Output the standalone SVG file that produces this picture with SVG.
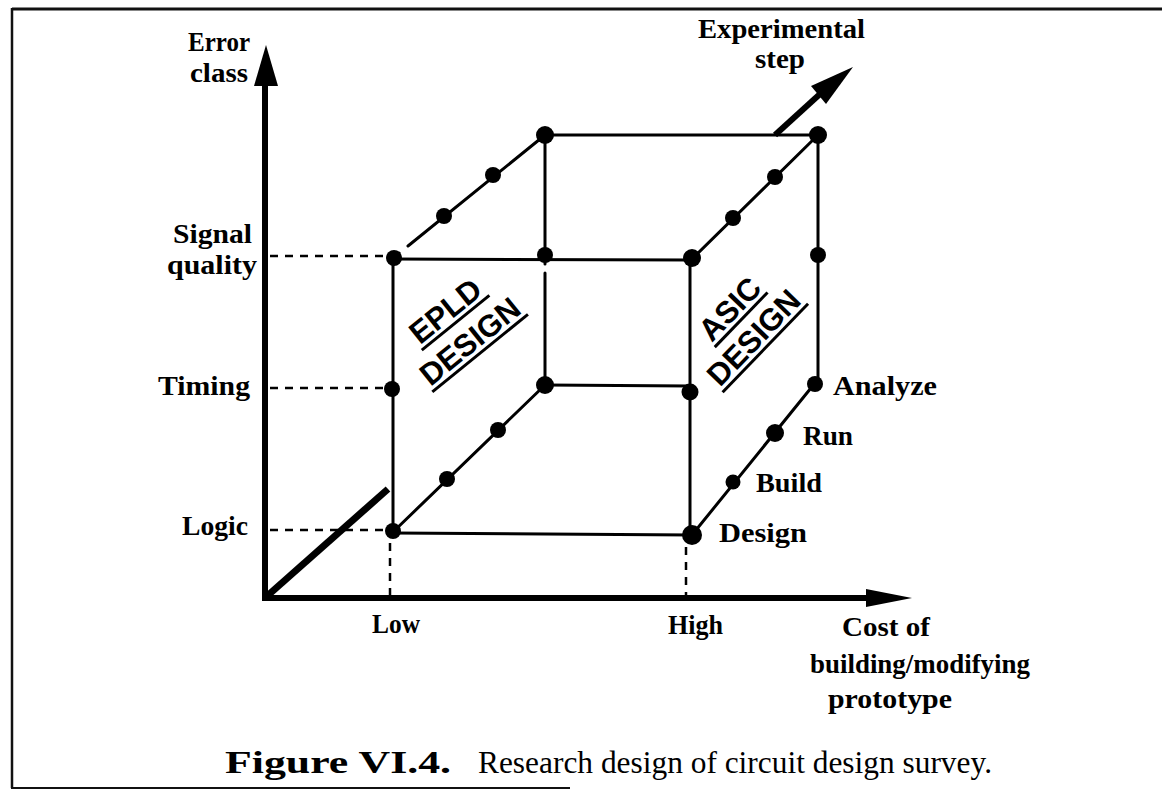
<svg xmlns="http://www.w3.org/2000/svg" width="1162" height="790" viewBox="0 0 1162 790">
<style>
.frame{stroke:#111;fill:none}
.axis{stroke:#000;stroke-width:6;fill:none}
.edge{stroke:#000;stroke-width:3;fill:none;stroke-linecap:round}
.dash{stroke:#000;stroke-width:2.5;stroke-dasharray:8 7;fill:none}
.lbl{font-family:"Liberation Serif","Times New Roman",serif;font-weight:bold;font-size:27px;fill:#000}
.cap{font-family:"Liberation Serif","Times New Roman",serif;font-size:32px;fill:#000}
.big{font-family:"Liberation Sans",Arial,sans-serif;font-weight:bold;font-size:31px;fill:#000}
.ul{stroke:#000;stroke-width:3}
circle{fill:#000}
</style>
<rect width="1162" height="790" fill="#fff"/>
<g id="frame">
<line class="frame" x1="12" y1="9" x2="1162" y2="9" stroke-width="3"/>
<line class="frame" x1="12" y1="8" x2="12" y2="788" stroke-width="2.5"/>
<line class="frame" x1="11" y1="788" x2="570" y2="788" stroke-width="2" stroke="#666"/>
</g>
<g id="axes">
<line class="axis" x1="265" y1="601" x2="265" y2="80"/>
<polygon points="266,45 254,86 278,86" fill="#000"/>
<line class="axis" x1="262" y1="598" x2="872" y2="598"/>
<polygon points="912,598 866,589 866,607" fill="#000"/>
<line x1="266" y1="597" x2="388" y2="489" stroke="#000" stroke-width="7"/>
<line x1="775" y1="135" x2="820" y2="94" stroke="#000" stroke-width="6"/>
<polygon points="853,67 811,86 826,104" fill="#000"/>
</g>
<g id="connectors">
<line class="edge" x1="393" y1="259" x2="692" y2="260"/>
<line class="edge" x1="393" y1="258" x2="393" y2="532"/>
<line class="edge" x1="690" y1="259" x2="690" y2="535"/>
<line class="edge" x1="393" y1="533" x2="692" y2="535"/>
<line class="edge" x1="545" y1="135" x2="818" y2="135"/>
<line class="edge" x1="545" y1="135" x2="545" y2="264"/>
<line class="edge" x1="545" y1="273" x2="545" y2="385"/>
<line class="edge" x1="545" y1="385" x2="690" y2="386"/>
<line class="edge" x1="818" y1="135" x2="818" y2="383"/>
<line class="edge" x1="408" y1="246" x2="545" y2="135"/>
<line class="edge" x1="393" y1="258" x2="399" y2="253"/>
<line class="edge" x1="692" y1="259" x2="818" y2="135"/>
<line class="edge" x1="393" y1="532" x2="545" y2="385"/>
<line class="edge" x1="692" y1="535" x2="815" y2="383"/>
<line class="dash" x1="270" y1="256" x2="386" y2="256"/>
<line class="dash" x1="270" y1="388" x2="386" y2="388"/>
<line class="dash" x1="270" y1="530" x2="386" y2="530"/>
<line class="dash" x1="390" y1="543" x2="390" y2="596"/>
<line class="dash" x1="686" y1="547" x2="686" y2="596"/>
</g>
<g id="n-front-tl"><circle cx="394" cy="258" r="8"/></g>
<g id="n-front-tr"><circle cx="692" cy="258" r="9"/></g>
<g id="n-front-bl"><circle cx="393" cy="531" r="8"/></g>
<g id="n-front-br"><circle cx="692" cy="535" r="10"/></g>
<g id="n-front-lmid"><circle cx="392" cy="389" r="8"/></g>
<g id="n-front-rmid"><circle cx="690" cy="392" r="8.5"/></g>
<g id="n-back-tl"><circle cx="545" cy="135" r="9"/></g>
<g id="n-back-tr"><circle cx="818" cy="135" r="9"/></g>
<g id="n-back-lmid"><circle cx="545" cy="255" r="8"/></g>
<g id="n-back-rmid"><circle cx="818" cy="255" r="8"/></g>
<g id="n-back-bl"><circle cx="545" cy="385" r="9"/></g>
<g id="n-analyze"><circle cx="815" cy="384" r="8"/></g>
<g id="n-tl-1"><circle cx="444" cy="216" r="8"/></g>
<g id="n-tl-2"><circle cx="493" cy="175" r="8"/></g>
<g id="n-tr-1"><circle cx="733" cy="218" r="8"/></g>
<g id="n-tr-2"><circle cx="775" cy="177" r="8"/></g>
<g id="n-bl-1"><circle cx="447" cy="479" r="8"/></g>
<g id="n-bl-2"><circle cx="498" cy="430" r="8"/></g>
<g id="n-build"><circle cx="733" cy="482" r="7.5"/></g>
<g id="n-run"><circle cx="775" cy="433" r="9"/></g>
<g id="labels">
<text class="lbl" x="188" y="51" textLength="62" lengthAdjust="spacingAndGlyphs">Error</text>
<text class="lbl" x="190" y="82" textLength="58" lengthAdjust="spacingAndGlyphs">class</text>
<text class="lbl" x="173" y="243" textLength="79" lengthAdjust="spacingAndGlyphs">Signal</text>
<text class="lbl" x="167" y="274" textLength="90" lengthAdjust="spacingAndGlyphs">quality</text>
<text class="lbl" x="158" y="395" textLength="92" lengthAdjust="spacingAndGlyphs">Timing</text>
<text class="lbl" x="182" y="535" textLength="66" lengthAdjust="spacingAndGlyphs">Logic</text>
<text class="lbl" x="372" y="633" textLength="48" lengthAdjust="spacingAndGlyphs">Low</text>
<text class="lbl" x="668" y="634" textLength="55" lengthAdjust="spacingAndGlyphs">High</text>
<text class="lbl" x="842" y="636" textLength="88" lengthAdjust="spacingAndGlyphs">Cost of</text>
<text class="lbl" x="810" y="673" textLength="220" lengthAdjust="spacingAndGlyphs">building/modifying</text>
<text class="lbl" x="828" y="708" textLength="124" lengthAdjust="spacingAndGlyphs">prototype</text>
<text class="lbl" x="698" y="38" textLength="167" lengthAdjust="spacingAndGlyphs">Experimental</text>
<text class="lbl" x="755" y="68" textLength="50" lengthAdjust="spacingAndGlyphs">step</text>
<text class="lbl" x="833" y="395" textLength="104" lengthAdjust="spacingAndGlyphs">Analyze</text>
<text class="lbl" x="803" y="445" textLength="50" lengthAdjust="spacingAndGlyphs">Run</text>
<text class="lbl" x="756" y="492" textLength="66" lengthAdjust="spacingAndGlyphs">Build</text>
<text class="lbl" x="719" y="542" textLength="88" lengthAdjust="spacingAndGlyphs">Design</text>
</g>
<g id="epld" transform="translate(464,334) rotate(-39)">
<text class="big" x="0" y="-19" text-anchor="middle">EPLD</text>
<line class="ul" x1="-43" y1="-14" x2="44" y2="-14"/>
<text class="big" x="0" y="20" text-anchor="middle">DESIGN</text>
<line class="ul" x1="-61" y1="25" x2="62" y2="25"/>
</g>
<g id="asic" transform="translate(747,331) rotate(-46)">
<text class="big" x="4" y="-17" text-anchor="middle">ASIC</text>
<line class="ul" x1="-34" y1="-12" x2="42" y2="-12"/>
<text class="big" x="0" y="20" text-anchor="middle">DESIGN</text>
<line class="ul" x1="-61" y1="25" x2="62" y2="25"/>
</g>
<g id="caption">
<text class="cap" x="225" y="773" font-weight="bold" textLength="226" lengthAdjust="spacingAndGlyphs">Figure VI.4.</text>
<text class="cap" x="478" y="773" textLength="514" lengthAdjust="spacingAndGlyphs">Research design of circuit design survey.</text>
</g>
</svg>
